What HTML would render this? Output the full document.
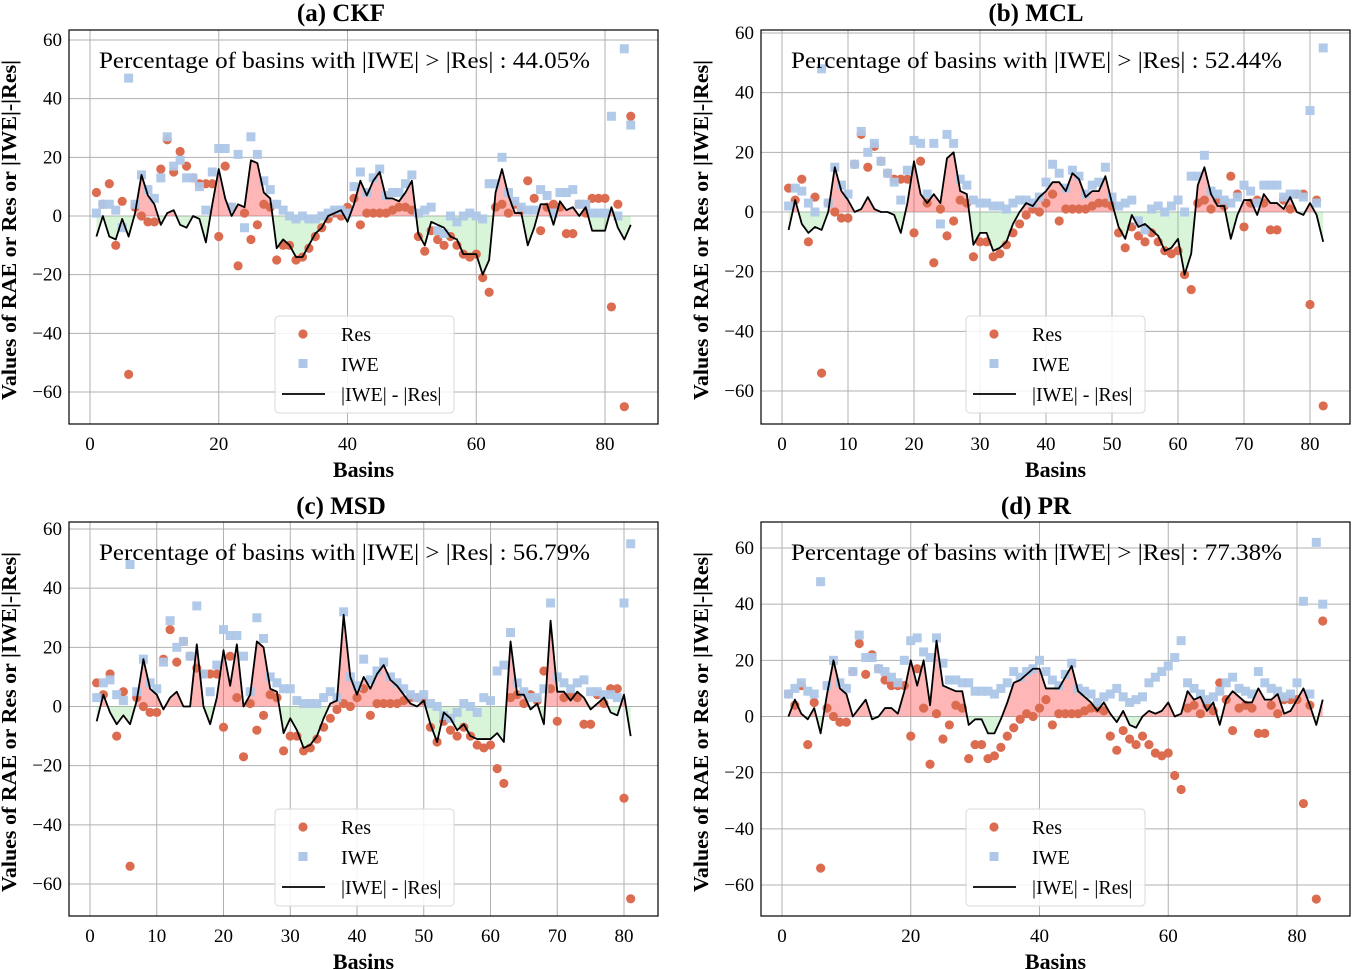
<!DOCTYPE html>
<html><head><meta charset="utf-8">
<style>
html,body{margin:0;padding:0;background:#fff;}
svg{display:block;font-family:"Liberation Serif",serif;}
</style></head>
<body>
<svg id="chart" width="1352" height="969" viewBox="0 0 1352 969"></svg>
<script>
// ---- data ----
const resA = [8,4,11,-10,5,-54,3,0,-2,-2,16,26,15,22,17,13,11,11,11,-7,17,3,-17,1,-8,-3,4,3,-15,-10,-10,-15,-14,-11,-7,-4,-1,1,0,3,6,-3,1,1,1,1,2,3,3,2,-7,-12,-5,-8,-10,-7,-10,-13,-14,-13,-21,-26,3,4,1,4,2,12,6,-5,3,4,3,-6,-6,4,1,6,6,6,-31,4,-65,34];
const iweA = [1,4,4,2,-4,47,4,14,9,6,13,27,17,19,13,13,10,2,15,23,23,3,21,-4,27,21,12,9,4,2,0,-1,0,-1,-1,0,1,2,2,1,10,15,8,13,16,7,8,8,11,14,1,2,3,-5,-6,0,-2,0,1,0,-1,11,11,20,8,5,3,2,2,9,7,1,8,8,9,4,4,1,1,1,34,0,57,31];
const resB = [8,4,11,-10,5,-54,3,0,-2,-2,16,26,15,22,17,13,11,11,11,-7,17,3,-17,1,-8,-3,4,3,-15,-10,-10,-15,-14,-11,-7,-4,-1,1,0,3,6,-3,1,1,1,1,2,3,3,2,-7,-12,-5,-8,-10,-7,-10,-13,-14,-13,-21,-26,3,4,1,4,2,12,6,-5,3,4,3,-6,-6,4,1,6,6,-31,4,-65];
const iweB = [2,8,7,3,0,48,3,15,9,6,16,27,20,23,17,13,10,4,14,24,23,6,23,-4,26,23,11,9,4,3,3,2,2,1,3,4,4,3,5,10,16,13,8,14,12,6,9,10,15,5,2,3,4,-3,-6,1,2,0,2,4,0,12,12,19,7,6,4,3,5,9,7,3,9,9,9,5,6,6,5,34,3,55];
const resC = [8,4,11,-10,5,-54,3,0,-2,-2,16,26,15,22,17,13,11,11,11,-7,17,3,-17,1,-8,-3,4,3,-15,-10,-10,-15,-14,-11,-7,-4,-1,1,0,3,6,-3,1,1,1,1,2,3,3,2,-7,-12,-5,-8,-10,-7,-10,-13,-14,-13,-21,-26,3,4,1,4,2,12,6,-5,3,4,3,-6,-6,4,1,6,6,-31,-65];
const iweC = [3,8,9,4,2,48,5,16,8,6,15,29,20,22,17,34,11,5,14,26,24,24,17,5,30,23,10,8,6,6,2,1,1,1,3,5,3,32,10,7,16,9,12,15,10,8,6,4,3,4,1,0,-3,-4,-2,1,0,-2,3,2,12,14,25,8,5,3,3,6,35,10,8,6,8,9,5,5,4,4,3,35,55];
const resD = [8,4,11,-10,5,-54,3,0,-2,-2,16,26,15,22,17,13,11,11,11,-7,17,3,-17,1,-8,-3,4,3,-15,-10,-10,-15,-14,-11,-7,-4,-1,1,0,3,6,-3,1,1,1,1,2,3,3,2,-7,-12,-5,-8,-10,-7,-10,-13,-14,-13,-21,-26,3,4,1,4,2,12,6,-5,3,4,3,-6,-6,4,1,6,6,6,-31,4,-65,34];
const iweD = [8,10,12,9,8,48,11,20,12,10,16,29,21,21,17,16,14,12,20,27,28,23,21,28,19,13,13,12,12,9,9,9,8,10,12,16,14,16,17,20,16,13,11,15,19,10,9,8,5,7,8,10,7,5,6,7,12,14,16,18,21,27,12,10,8,6,7,9,12,14,10,9,8,16,12,10,9,7,8,12,41,8,62,40];
const yTicks = [-60,-40,-20,0,20,40,60];
const titles = ["(a) CKF","(b) MCL","(c) MSD","(d)  PR"];
const pctLabels = ["44.05%","52.44%","56.79%","77.38%"];

// ---- layout ----
const panels = [
 {res:resA, iwe:iweA, L:69,R:658,T:30,B:424, x0:90,x80:605, y60:40,ym60:392, step:20, tx:341,ty:21, lg:[275,316], key:'ckf'},
 {res:resB, iwe:iweB, L:761,R:1350,T:30,B:424, x0:782,x80:1310, y60:33,ym60:391, step:10, tx:1036,ty:21, lg:[966,316], key:'mcl'},
 {res:resC, iwe:iweC, L:69,R:658,T:522,B:916, x0:90,x80:624, y60:529,ym60:884, step:10, tx:341,ty:514, lg:[275,809], key:'msd'},
 {res:resD, iwe:iweD, L:761,R:1350,T:522,B:916, x0:782,x80:1297, y60:548,ym60:885, step:20, tx:1036,ty:514, lg:[966,809], key:'pr'}
];
const NS="http://www.w3.org/2000/svg";
const svg=document.getElementById('chart');
function mk(tag,attrs,parent){const e=document.createElementNS(NS,tag);for(const k in attrs)e.setAttribute(k,attrs[k]);(parent||svg).appendChild(e);return e;}
const RES_C="#dc6c4f", IWE_C="#aec7e8";

panels.forEach((p,pi)=>{
  const g=mk('g',{});
  
  
  const xs=v=>p.x0+(p.x80-p.x0)*v/80;
  const ys=v=>p.y60+(p.ym60-p.y60)*(60-v)/120;
  for(let t=0;t<=80;t+=p.step){
    const gl=mk('line',{x1:xs(t),x2:xs(t),y1:p.T,y2:p.B,stroke:'#b0b0b0','stroke-width':1},g);
    
    
    const tl=mk('text',{x:xs(t),y:p.B+26,'text-anchor':'middle','font-size':19,fill:'#000'},g);
    tl.textContent=t;
    
    
  }
  yTicks.forEach(t=>{
    const gl=mk('line',{x1:p.L,x2:p.R,y1:ys(t),y2:ys(t),stroke:'#b0b0b0','stroke-width':1},g);
    
    
    const tl=mk('text',{x:p.L-7,y:ys(t)+6,'text-anchor':'end','font-size':19,fill:'#000'},g);
    tl.textContent=(t<0?'\u2212'+(-t):t);
    
    
  });
  const n=p.res.length;
  const diff=[];
  for(let i=0;i<n;i++)diff.push(Math.abs(p.iwe[i])-Math.abs(p.res[i]));
  let posPts=[],negPts=[];
  for(let i=0;i<n;i++){
    const d=diff[i];
    if(i>0){const d0=diff[i-1];if((d0>0&&d<0)||(d0<0&&d>0)){const f=d0/(d0-d);const xc=xs(i+f);posPts.push([xc,ys(0)]);negPts.push([xc,ys(0)]);}}
    posPts.push([xs(i+1),ys(Math.max(d,0))]);
    negPts.push([xs(i+1),ys(Math.min(d,0))]);
  }
  const close=pts=>pts.map(q=>q.join(',')).join(' ')+` ${xs(n)},${ys(0)} ${xs(1)},${ys(0)}`;
  const pf=mk('polygon',{points:close(posPts),fill:'rgba(255,80,80,0.42)',stroke:'none'},g);
  
  
  const nf=mk('polygon',{points:close(negPts),fill:'rgba(120,220,120,0.28)',stroke:'none'},g);
  
  
  for(let i=0;i<n;i++){
    const c=mk('circle',{cx:xs(i+1),cy:ys(p.res[i]),r:4.6,fill:RES_C},g);
    
    
  }
  for(let i=0;i<n;i++){
    const s=mk('rect',{x:xs(i+1)-4.5,y:ys(p.iwe[i])-4.5,width:9,height:9,fill:IWE_C,opacity:0.95},g);
    
    
  }
  const line=mk('polyline',{points:diff.map((d,i)=>xs(i+1)+','+ys(d)).join(' '),fill:'none',stroke:'#000','stroke-width':1.8,'stroke-linejoin':'round'},g);
  
  
  const fr=mk('rect',{x:p.L,y:p.T,width:p.R-p.L,height:p.B-p.T,fill:'none',stroke:'#000','stroke-width':1.2},g);
  
  
  const an=mk('text',{x:p.L+30,y:p.T+38,'font-size':23.5,fill:'#000',textLength:491,lengthAdjust:'spacingAndGlyphs'},g);
  an.textContent='Percentage of basins with |IWE| > |Res| : '+pctLabels[pi];
  
  
  const ti=mk('text',{x:p.tx,y:p.ty,'text-anchor':'middle','font-size':25,'font-weight':'bold',fill:'#000'},g);
  ti.textContent=titles[pi];
  
  
  const xl=mk('text',{x:(p.L+p.R)/2,y:p.B+53,'text-anchor':'middle','font-size':22,'font-weight':'bold',fill:'#000'},g);
  xl.textContent='Basins';
  
  
  const cy=(p.T+p.B)/2+3, cx=p.L-53;
  const yl=mk('text',{x:cx,y:cy,'text-anchor':'middle','font-size':21,'font-weight':'bold',fill:'#000',transform:`rotate(-90 ${cx} ${cy})`,textLength:340,lengthAdjust:'spacingAndGlyphs'},g);
  yl.textContent='Values of RAE or Res or |IWE|-|Res|';
  
  
  const [lx,ly]=p.lg;
  const lgG=mk('g',{},g);
  
  
  mk('rect',{x:lx,y:ly,width:179,height:97,rx:4,fill:'rgba(255,255,255,0.85)',stroke:'#d8d8d8'},lgG);
  const e1=mk('circle',{cx:lx+28,cy:ly+18,r:4.6,fill:RES_C},lgG);
  
  
  const e2=mk('rect',{x:lx+23.5,y:ly+43,width:9,height:9,fill:IWE_C},lgG);
  
  
  const e3=mk('line',{x1:lx+7,x2:lx+50,y1:ly+78,y2:ly+78,stroke:'#000','stroke-width':1.8},lgG);
  
  
  [['Res',ly+25],['IWE',ly+55],['|IWE| - |Res|',ly+85]].forEach(([t,y])=>{
    const tx=mk('text',{x:lx+66,y:y,'font-size':20,fill:'#000'},lgG);
    tx.textContent=t;
    
    
  });
});
</script>
</body></html>
